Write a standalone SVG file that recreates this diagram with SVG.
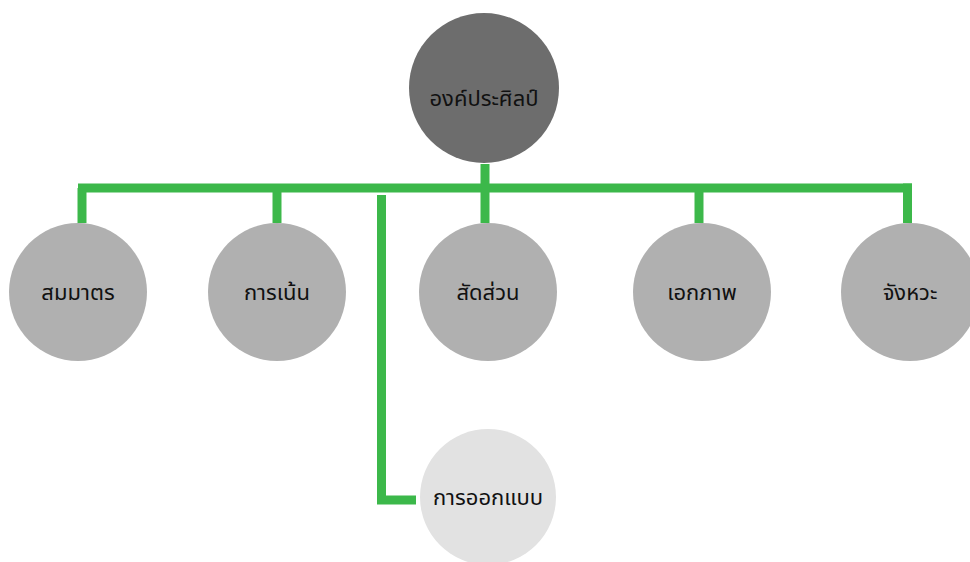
<svg xmlns="http://www.w3.org/2000/svg" width="970" height="562" viewBox="0 0 970 562">
<style>
.t{font-family:"Noto Sans Thai","Leelawadee UI","Tahoma","Noto Sans","DejaVu Sans",sans-serif;font-size:22px;fill:#111111;text-anchor:middle;dominant-baseline:central}
.c{fill:#b0b0b0}
.ln{stroke:#3cb84a;stroke-width:9;fill:none;stroke-linecap:butt}
</style>
<rect width="970" height="562" fill="#ffffff"/>
<g id="connectors">
<line class="ln" x1="485" y1="164" x2="485" y2="192"/>
<line class="ln" x1="78" y1="188" x2="912" y2="188"/>
<line class="ln" x1="82" y1="188" x2="82" y2="223"/>
<line class="ln" x1="277" y1="188" x2="277" y2="223"/>
<line class="ln" x1="485" y1="188" x2="485" y2="223"/>
<line class="ln" x1="699" y1="188" x2="699" y2="223"/>
<line class="ln" x1="907.5" y1="183.5" x2="907.5" y2="223"/>
<polyline class="ln" points="381.5,195 381.5,500 416,500"/>
</g>
<g id="node-root"><circle cx="484" cy="88" r="75" fill="#6d6d6d"/><text class="t" x="484" y="99">องค์ประศิลป์</text></g>
<g id="node-1"><circle class="c" cx="78" cy="292" r="69"/><text class="t" x="78" y="293">สมมาตร</text></g>
<g id="node-2"><circle class="c" cx="277" cy="292" r="69"/><text class="t" x="277" y="293">การเน้น</text></g>
<g id="node-3"><circle class="c" cx="488" cy="292" r="69"/><text class="t" x="488" y="293">สัดส่วน</text></g>
<g id="node-4"><circle class="c" cx="702" cy="292" r="69"/><text class="t" x="702" y="293">เอกภาพ</text></g>
<g id="node-5"><circle class="c" cx="910" cy="292" r="69"/><text class="t" x="910" y="293">จังหวะ</text></g>
<g id="node-6"><circle cx="488" cy="497" r="68" fill="#e2e2e2"/><text class="t" x="488" y="498">การออกแบบ</text></g>
</svg>
